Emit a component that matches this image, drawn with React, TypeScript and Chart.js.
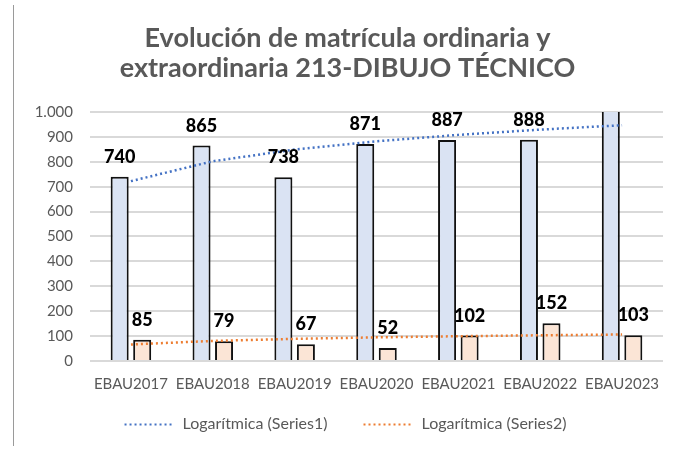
import React, { useEffect, useRef } from "react";
import { Chart, registerables } from "chart.js";

Chart.register(...registerables);

const categories = ["EBAU2017", "EBAU2018", "EBAU2019", "EBAU2020", "EBAU2021", "EBAU2022", "EBAU2023"];
const series1 = [740, 865, 738, 871, 887, 888, 1050];
const series2 = [85, 79, 67, 52, 102, 152, 103];
const yTicks = [0, 100, 200, 300, 400, 500, 600, 700, 800, 900, 1000];
const titleLines = ["Evolución de matrícula ordinaria y", "extraordinaria 213-DIBUJO TÉCNICO"];
const trendNames = ["Logarítmica (Series1)", "Logarítmica (Series2)"];

// Excel-style logarithmic trend line (least squares on ln(x))
function logTrend(values: number[]): number[] {
  const xs = values.map((_, i) => Math.log(i + 1));
  const n = values.length;
  const mx = xs.reduce((a, b) => a + b, 0) / n;
  const my = values.reduce((a, b) => a + b, 0) / n;
  let sxy = 0, sxx = 0;
  xs.forEach((x, i) => { sxy += (x - mx) * (values[i] - my); sxx += (x - mx) * (x - mx); });
  const b = sxy / sxx;
  const a = my - b * mx;
  return xs.map((x) => a + b * x);
}

const fmt = (v: number) => v.toLocaleString("de-DE");
const GRAY = "#595959";
const FONT = "Lato, 'Open Sans', sans-serif";

const labelsPlugin = {
  id: "barLabels",
  afterDatasetsDraw(chart: any) {
    const ctx = chart.ctx;
    const max = chart.scales.y.max;
    ctx.save();
    ctx.font = `900 18px ${FONT}`;
    ctx.fillStyle = "#000";
    ctx.textAlign = "center";
    ctx.textBaseline = "alphabetic";
    chart.data.datasets.forEach((ds: any, di: number) => {
      if (ds.type !== "bar") return;
      const meta = chart.getDatasetMeta(di);
      meta.data.forEach((el: any, i: number) => {
        const v = ds.data[i];
        if (v > max) return;
        ctx.fillText(fmt(v), el.x, el.y - 14);
      });
    });
    ctx.restore();
  },
};

const legendPlugin = {
  id: "trendLegend",
  afterDraw(chart: any) {
    const ctx = chart.ctx;
    ctx.save();
    ctx.font = `16px ${FONT}`;
    const items = chart.data.datasets.filter((d: any) => d.type === "line");
    const lineW = 50, gapText = 8, gapItem = 36;
    const widths = items.map((d: any) => lineW + gapText + ctx.measureText(d.label).width);
    const total = widths.reduce((a: number, b: number) => a + b, 0) + gapItem * (items.length - 1);
    let x = chart.width / 2 - 3 - total / 2;
    const y = 424;
    items.forEach((d: any, i: number) => {
      ctx.strokeStyle = d.borderColor;
      ctx.lineWidth = 2;
      ctx.setLineDash([2, 3]);
      ctx.beginPath();
      ctx.moveTo(x, y + 0.5);
      ctx.lineTo(x + lineW, y + 0.5);
      ctx.stroke();
      ctx.setLineDash([]);
      ctx.fillStyle = GRAY;
      ctx.textBaseline = "middle";
      ctx.textAlign = "left";
      ctx.fillText(d.label, x + lineW + gapText, y);
      x += widths[i] + gapItem;
    });
    ctx.restore();
  },
};

const framePlugin = {
  id: "frame",
  beforeDraw(chart: any) {
    const ctx = chart.ctx;
    ctx.save();
    ctx.fillStyle = "#fff";
    ctx.fillRect(0, 0, chart.width, chart.height);
    ctx.strokeStyle = "#9a9a9a";
    ctx.lineWidth = 1;
    ctx.beginPath();
    ctx.moveTo(13.5, 5);
    ctx.lineTo(13.5, 446);
    ctx.stroke();
    ctx.restore();
  },
};

export default function App() {
  const ref = useRef<HTMLCanvasElement>(null);
  useEffect(() => {
    if (!ref.current) return;
    const chart = new Chart(ref.current, {
      type: "bar",
      data: {
        labels: categories,
        datasets: [
          {
            type: "bar",
            label: "Series1",
            data: series1,
            backgroundColor: "#dae3f3",
            borderColor: "#111",
            borderWidth: 2,
            order: 2,
          } as any,
          {
            type: "bar",
            label: "Series2",
            data: series2,
            backgroundColor: "#fbe5d6",
            borderColor: "#111",
            borderWidth: 2,
            order: 2,
          } as any,
          {
            type: "line",
            label: trendNames[0],
            data: logTrend(series1),
            borderColor: "#4472c4",
            borderWidth: 2.5,
            borderDash: [2, 3],
            pointRadius: 0,
            fill: false,
            order: 0,
          } as any,
          {
            type: "line",
            label: trendNames[1],
            data: logTrend(series2),
            borderColor: "#ed7d31",
            borderWidth: 2.5,
            borderDash: [2, 3],
            pointRadius: 0,
            fill: false,
            order: 0,
          } as any,
        ],
      },
      options: {
        animation: false,
        responsive: false,
        maintainAspectRatio: false,
        layout: { padding: { left: 32, right: 34, top: 0, bottom: 45 } },
        datasets: { bar: { categoryPercentage: 0.55, barPercentage: 0.8 } },
        plugins: {
          title: {
            display: true,
            text: titleLines,
            color: GRAY,
            font: { family: FONT, size: 27, weight: "bold", lineHeight: 1.11 },
            padding: { top: 23, bottom: 29 },
          },
          legend: { display: false },
          tooltip: { enabled: false },
        },
        scales: {
          x: {
            grid: { display: false, drawTicks: false },
            border: { display: false },
            ticks: { color: GRAY, font: { family: FONT, size: 15 }, padding: 14, maxRotation: 0, autoSkip: false },
          },
          y: {
            min: 0,
            max: 1000,
            afterBuildTicks: (scale: any) => { scale.ticks = yTicks.map((v) => ({ value: v })); },
            afterFit: (scale: any) => { scale.width = 58; },
            grid: { color: "#d9d9d9", lineWidth: 2, drawTicks: false },
            border: { display: false },
            ticks: {
              color: GRAY,
              font: { family: FONT, size: 15 },
              padding: 17,
              callback: (v: any) => fmt(Number(v)),
            },
          },
        },
      },
      plugins: [labelsPlugin, legendPlugin, framePlugin],
    });
    return () => chart.destroy();
  }, []);
  return (
    <div style={{ position: "absolute", left: 0, top: 0, width: 697, height: 452 }}>
      <canvas ref={ref} width={697} height={452} style={{ width: 697, height: 452, display: "block" }} />
    </div>
  );
}
